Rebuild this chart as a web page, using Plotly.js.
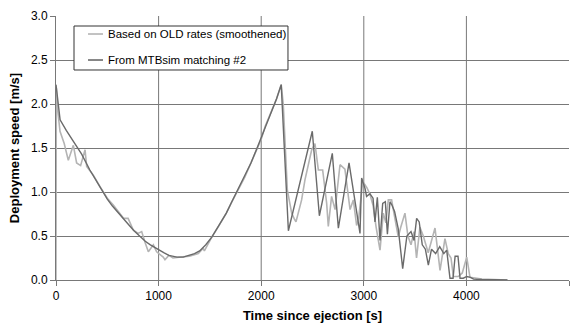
<!DOCTYPE html>
<html>
<head>
<meta charset="utf-8">
<script src="https://cdn.plot.ly/plotly-3.0.1.min.js"></script>
<style>html,body{margin:0;padding:0;background:#fff;}#chart{width:582px;height:331px;}</style>
</head>
<body>
<div id="chart"></div>
<script>
// Series: "Based on OLD rates (smoothened)" (light grey)
const oldX = [0, 3, 15, 39, 80, 120, 169, 201, 240, 283, 299, 364, 429, 500, 560, 620, 660, 703, 752, 800, 835, 870, 900, 949, 981, 1045, 1062, 1100, 1140, 1200, 1300, 1387, 1435, 1446, 1520, 1590, 1660, 1710, 1770, 1840, 1900, 1960, 2000, 2040, 2100, 2150, 2195, 2215, 2255, 2297, 2320, 2339, 2394, 2427, 2492, 2524, 2557, 2599, 2638, 2654, 2686, 2720, 2768, 2816, 2866, 2898, 2930, 2950, 2990, 3030, 3058, 3090, 3120, 3158, 3190, 3215, 3239, 3271, 3303, 3336, 3360, 3401, 3430, 3460, 3490, 3514, 3547, 3580, 3628, 3660, 3694, 3743, 3791, 3823, 3850, 3873, 3921, 3960, 4003, 4035, 4075, 4150, 4400];
const oldY = [0.0, 2.18, 1.95, 1.69, 1.55, 1.36, 1.53, 1.33, 1.30, 1.48, 1.29, 1.19, 1.06, 0.93, 0.85, 0.76, 0.70, 0.70, 0.57, 0.53, 0.55, 0.42, 0.32, 0.40, 0.32, 0.26, 0.23, 0.28, 0.25, 0.26, 0.27, 0.30, 0.36, 0.33, 0.49, 0.62, 0.76, 0.88, 1.02, 1.17, 1.33, 1.50, 1.60, 1.75, 1.92, 2.06, 2.22, 2.00, 1.02, 0.76, 0.70, 0.66, 0.91, 1.14, 1.48, 1.55, 1.25, 1.25, 0.87, 0.61, 0.95, 0.80, 1.31, 1.26, 0.80, 0.91, 0.62, 0.70, 1.12, 1.05, 0.98, 0.85, 0.60, 0.34, 0.76, 0.65, 0.91, 0.91, 0.70, 0.49, 0.60, 0.76, 0.50, 0.40, 0.55, 0.25, 0.60, 0.50, 0.31, 0.45, 0.59, 0.11, 0.47, 0.30, 0.25, 0.04, 0.04, 0.08, 0.26, 0.03, 0.02, 0.01, 0.0];

// Series: "From MTBsim matching #2" (dark grey)
const simX = [0, 20, 40, 100, 200, 250, 330, 380, 430, 500, 550, 600, 650, 700, 760, 820, 870, 920, 960, 1000, 1050, 1100, 1180, 1240, 1300, 1350, 1400, 1460, 1520, 1590, 1660, 1710, 1760, 1830, 1900, 1960, 2010, 2060, 2100, 2150, 2195, 2265, 2498, 2567, 2693, 2752, 2856, 2963, 2979, 3012, 3027, 3060, 3090, 3109, 3132, 3158, 3184, 3210, 3230, 3255, 3275, 3300, 3336, 3379, 3420, 3460, 3490, 3515, 3540, 3570, 3600, 3629, 3660, 3700, 3740, 3780, 3808, 3840, 3870, 3890, 3918, 3938, 3970, 4003, 4040, 4070, 4150, 4400];
const simY = [2.22, 2.00, 1.82, 1.70, 1.52, 1.43, 1.25, 1.15, 1.06, 0.92, 0.84, 0.77, 0.70, 0.64, 0.56, 0.49, 0.44, 0.40, 0.37, 0.34, 0.31, 0.28, 0.26, 0.26, 0.28, 0.30, 0.33, 0.40, 0.49, 0.62, 0.76, 0.88, 1.00, 1.15, 1.33, 1.50, 1.65, 1.80, 1.92, 2.06, 2.22, 0.56, 1.69, 0.73, 1.44, 0.59, 1.33, 0.53, 1.16, 1.04, 0.95, 0.98, 0.93, 0.66, 0.94, 0.45, 0.87, 0.89, 0.52, 0.89, 0.85, 0.78, 0.58, 0.13, 0.50, 0.55, 0.45, 0.70, 0.66, 0.40, 0.35, 0.17, 0.35, 0.30, 0.38, 0.30, 0.34, 0.02, 0.02, 0.27, 0.27, 0.02, 0.02, 0.04, 0.03, 0.01, 0.005, 0.0];

const seriesNames = ["Based on OLD rates (smoothened)", "From MTBsim matching #2"];
const seriesColors = ['#b4b4b4', '#6a6a6a'];
const xTicks = [0, 1000, 2000, 3000, 4000, 5000];
const yTicks = [0, 0.5, 1.0, 1.5, 2.0, 2.5, 3.0];
const xGrid = [1000, 2000, 3000, 4000];

const FONT = 'Arial, "Liberation Sans", sans-serif';
const GRID = '#787878';

const traces = [
  {x: oldX, y: oldY, name: seriesNames[0], type: 'scatter', mode: 'lines',
   line: {color: seriesColors[0], width: 1.6}},
  {x: simX, y: simY, name: seriesNames[1], type: 'scatter', mode: 'lines',
   line: {color: seriesColors[1], width: 1.4}}
];

const shapes = xGrid.map(v => ({type: 'line', xref: 'x', yref: 'paper', x0: v, x1: v, y0: 0, y1: 1,
  line: {color: GRID, width: 1}, layer: 'below'}));

// Legend box (drawn in paper coordinates)
shapes.push({type: 'rect', xref: 'paper', yref: 'paper', x0: 0.0351, x1: 0.4522, y0: 0.7955, y1: 0.9621,
  line: {color: '#333', width: 1}, fillcolor: '#fff', layer: 'above'});
const legY = [0.9318, 0.8333];
const annotations = [];
seriesNames.forEach((n, i) => {
  shapes.push({type: 'line', xref: 'paper', yref: 'paper', x0: 0.0624, x1: 0.0916, y0: legY[i], y1: legY[i],
    line: {color: seriesColors[i], width: 1.6}, layer: 'above'});
  annotations.push({xref: 'paper', yref: 'paper', x: 0.0975, y: legY[i], xanchor: 'left', yanchor: 'middle',
    text: n, showarrow: false, font: {family: FONT, size: 11.5, color: '#000'}});
});

const layout = {
  width: 582, height: 331,
  margin: {l: 56, r: 13, t: 16, b: 51},
  paper_bgcolor: '#fff', plot_bgcolor: '#fff',
  font: {family: FONT, size: 12, color: '#000'},
  showlegend: false,
  xaxis: {range: [0, 5000], tickvals: xTicks, ticktext: xTicks.map(String),
    showgrid: false, zeroline: false, showline: true, linecolor: GRID, linewidth: 1,
    ticks: 'outside', ticklen: 5, tickcolor: GRID,
    tickfont: {family: FONT, size: 12, color: '#000'},
    title: {text: '<b>Time since ejection [s]</b>', font: {family: FONT, size: 13, color: '#000'}, standoff: 8}},
  yaxis: {range: [0, 3.0], tickvals: yTicks, ticktext: yTicks.map(v => v.toFixed(1)),
    showgrid: true, gridcolor: GRID, gridwidth: 1, zeroline: false,
    showline: true, linecolor: GRID, linewidth: 1,
    ticks: 'outside', ticklen: 5, tickcolor: GRID,
    tickfont: {family: FONT, size: 12, color: '#000'},
    title: {text: '<b>Deployment speed [m/s]</b>', font: {family: FONT, size: 13, color: '#000'}, standoff: 8}},
  shapes: shapes,
  annotations: annotations
};

Plotly.newPlot('chart', traces, layout, {displayModeBar: false, staticPlot: true});
</script>
</body>
</html>
